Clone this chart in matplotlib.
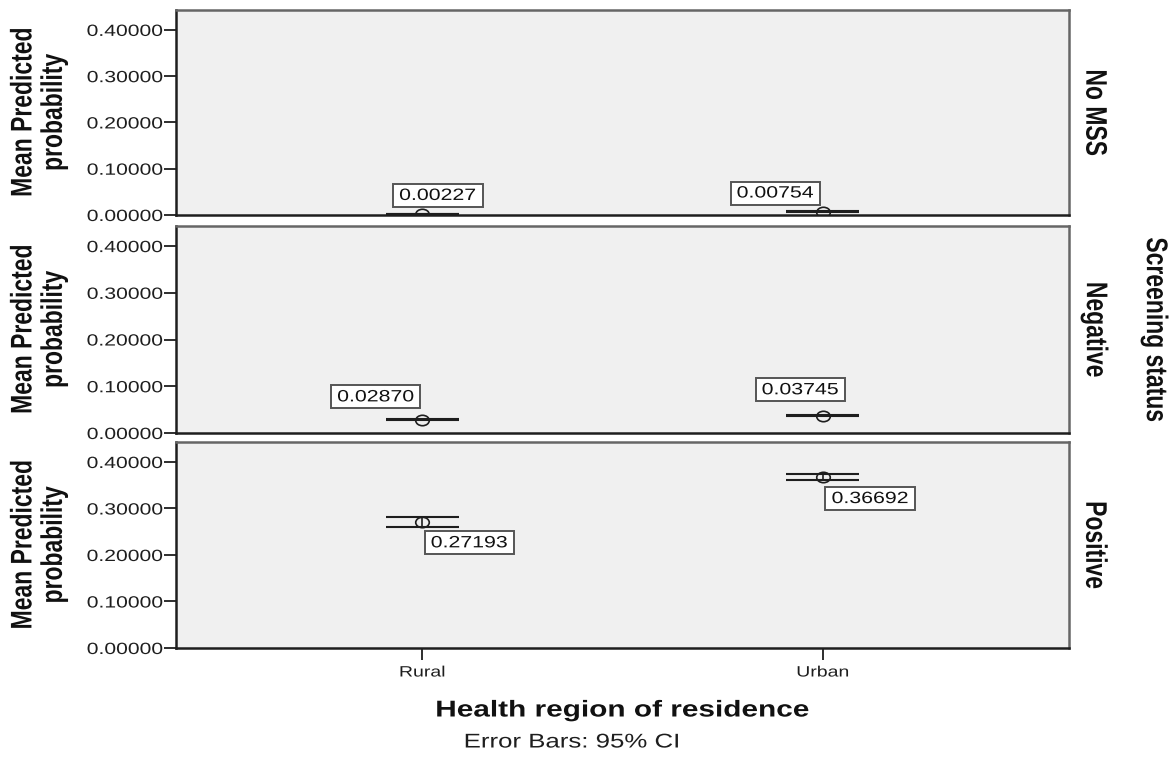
import matplotlib
matplotlib.use("Agg")
import matplotlib.pyplot as plt
from matplotlib.patheffects import AbstractPathEffect
from matplotlib.transforms import Affine2D
from matplotlib.markers import MarkerStyle
from matplotlib.path import Path

# data
regions = ["Rural", "Urban"]
statuses = ["No MSS", "Negative", "Positive"]
means = [[0.00227, 0.00754],
         [0.02870, 0.03745],
         [0.27193, 0.36692]]
ci_low = [[0.00200, 0.00700],
          [0.02780, 0.03640],
          [0.26050, 0.36050]]
ci_high = [[0.00255, 0.00810],
           [0.02960, 0.03850],
           [0.28200, 0.37330]]
yticks = [0.0, 0.1, 0.2, 0.3, 0.4]

# label box offsets in pixels (dx, dy) per panel / region
offsets = [[(15.5, 18.5), (-47.5, 18.5)],
           [(-46.5, 22.7), (-22.5, 25.7)],
           [(47, -21.3), (47.5, -21.2)]]

SX = 1.3  # the SPSS export looks stretched sideways


class Stretch(AbstractPathEffect):
    """draw text scaled along display x, around its centre or an edge"""
    def __init__(self, sx=SX, anchor='center'):
        super().__init__()
        self.sx = sx
        self.anchor = anchor

    def draw_path(self, renderer, gc, tpath, affine, rgbFace=None):
        ext = tpath.get_extents(affine)
        if self.anchor == 'right':
            cx = ext.x1
        elif self.anchor == 'left':
            cx = ext.x0
        else:
            cx = 0.5 * (ext.x0 + ext.x1)
        aff = affine + Affine2D().translate(-cx, 0).scale(self.sx, 1).translate(cx, 0)
        renderer.draw_path(gc, tpath, aff, rgbFace)


def wide_box(x0, y0, width, height, mutation_size):
    # box around stretched label text
    cx, cy = x0 + width / 2, y0 + height / 2
    w = width * SX + 12
    h = height + 8
    return Path([(cx - w / 2, cy - h / 2), (cx + w / 2, cy - h / 2),
                 (cx + w / 2, cy + h / 2), (cx - w / 2, cy + h / 2),
                 (cx - w / 2, cy - h / 2)], closed=True)


plt.rcParams['font.family'] = ['Liberation Sans', 'DejaVu Sans']

fig = plt.figure(figsize=(11.73, 7.67), dpi=100)
left, width = 176 / 1173, (1069 - 176) / 1173
panels = [(10, 215), (226, 433), (442, 648)]
dark = '#1e1e1e'
circle = MarkerStyle('o', fillstyle='none', transform=Affine2D().scale(SX, 1))

for i, (top, bot) in enumerate(panels):
    ax = fig.add_axes([left, 1 - bot / 767, width, (bot - top) / 767])
    ax.set_facecolor('#f0f0f0')
    for s in ax.spines.values():
        s.set_color('#666666')
        s.set_linewidth(1.8)
    ax.spines['left'].set_color(dark)
    ax.spines['bottom'].set_color(dark)
    ax.set_xlim(-0.615, 1.615)
    ax.set_ylim(0, 0.443)
    ax.set_yticks(yticks)
    ax.set_yticklabels([f"{v:.5f}" for v in yticks], fontsize=11.7, color=dark)
    ax.tick_params(axis='y', direction='out', length=8.6, width=1.3, color=dark, pad=1)
    for t in ax.get_yticklabels():
        t.set_path_effects([Stretch(anchor='right')])

    for j, reg in enumerate(regions):
        m, lo, hi = means[i][j], ci_low[i][j], ci_high[i][j]
        ax.vlines(j, lo, hi, color=dark, lw=1.2)
        ax.hlines([lo, hi], j - 0.091, j + 0.091, color=dark, lw=1.5)
        ax.plot(j, m, marker=circle, ms=7.5, mec=dark, mew=1.2, ls='none')
        dx, dy = offsets[i][j]
        ann = ax.annotate(f"{m:.5f}", (j, m), xytext=(dx * 0.72, dy * 0.72),
                          textcoords='offset points', ha='center', va='center',
                          fontsize=11.8, color='#111111',
                          bbox=dict(boxstyle=wide_box, fc='white',
                                    ec='#555555', lw=1.4))
        ann.set_path_effects([Stretch()])

    yl = ax.text(-0.1545, 0.5, "Mean Predicted\nprobability", transform=ax.transAxes,
                 rotation=90, ha='center', va='center', multialignment='center',
                 fontweight='bold', fontsize=16.5, linespacing=1.45, color='#111111')
    yl.set_path_effects([Stretch()])
    st = ax.text(1.0293, 0.5, statuses[i], transform=ax.transAxes, rotation=270,
                 ha='center', va='center', fontweight='bold', fontsize=16.5,
                 color='#111111')
    st.set_path_effects([Stretch()])

    if i < 2:
        ax.set_xticks([])
    else:
        ax.set_xticks(range(len(regions)))
        ax.set_xticklabels(regions, fontsize=10.8, color=dark)
        ax.tick_params(axis='x', direction='out', length=8.6, width=1.3,
                       color=dark, pad=4)
        for t in ax.get_xticklabels():
            t.set_path_effects([Stretch()])
    if i == 1:
        ss = ax.text(1.0965, 0.5, "Screening status", transform=ax.transAxes,
                     rotation=270, ha='center', va='center', fontweight='bold',
                     fontsize=16.5, color='#111111')
        ss.set_path_effects([Stretch()])

xl = fig.text(622 / 1173, 1 - 710 / 767, "Health region of residence", ha='center',
              va='center', fontweight='bold', fontsize=16.5, color='#111111')
xl.set_path_effects([Stretch()])
eb = fig.text(572 / 1173, 1 - 742 / 767, "Error Bars: 95% CI", ha='center',
              va='center', fontsize=14.3, color=dark)
eb.set_path_effects([Stretch()])

fig.savefig("out.png", dpi=100)
